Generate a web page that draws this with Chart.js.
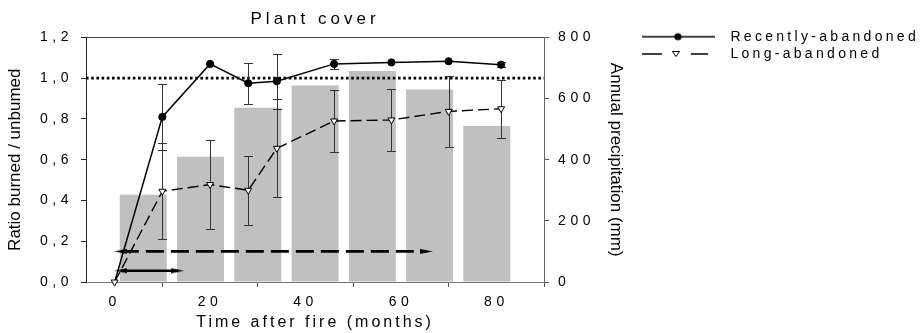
<!DOCTYPE html>
<html>
<head>
<meta charset="utf-8">
<title>Plant cover</title>
<script src="https://cdn.jsdelivr.net/npm/chart.js@4.4.1/dist/chart.umd.min.js"></script>
<style>
  html, body { margin: 0; padding: 0; background: #fff; }
  #wrap { width: 921px; height: 333px; }
</style>
</head>
<body>
<div id="wrap"><canvas id="grafico" width="921" height="333"></canvas></div>
<script>
// meses depois do fogo (pontos das duas séries)
const months = [0, 10, 20, 28, 34, 46, 58, 70, 81];
const recent = [0, 0.81, 1.07, 0.975, 0.985, 1.07, 1.077, 1.083, 1.066];
const recentErr = [0, 0.16, 0, 0.10, 0.135, 0.025, 0, 0, 0.012];
const longAb = [0, 0.445, 0.478, 0.45, 0.656, 0.79, 0.795, 0.837, 0.85];
const longErr = [0, 0.235, 0.22, 0.17, 0.24, 0.153, 0.15, 0.175, 0.143];

// precipitação anual (barras)
const precipMonths = [6, 18, 30, 42, 54, 66, 78];
const precip = [285, 410, 570, 643, 690, 630, 510];

// linha de referência e setas
const refLineX = [-6, 90];
const refLineY = 1;
const arrowSolidX = [1.3, 13.2];
const arrowSolidY = 0.055;
const arrowDashX = [1.3, 65.3];
const arrowDashY = 0.15;

// ticks
const xTicks = [0, 20, 40, 60, 80];
const yTicks = [0, 0.2, 0.4, 0.6, 0.8, 1.0, 1.2];
const yTickLabels = ['0,0', '0,2', '0,4', '0,6', '0,8', '1,0', '1,2'];
const y1Ticks = [0, 200, 400, 600, 800];

const FONTE = "'Liberation Sans', Arial, sans-serif";
Chart.defaults.font.family = FONTE;
Chart.defaults.color = '#000';

// espaçamento entre letras, como no original
function comEspaco(proto, nome, espaco) {
    if (!proto || !proto[nome]) return;
    const orig = proto[nome];
    proto[nome] = function (...args) {
        const ctx = this.ctx;
        const antes = ctx.letterSpacing;
        ctx.letterSpacing = typeof espaco === 'function' ? espaco(this) : espaco;
        const r = orig.apply(this, args);
        ctx.letterSpacing = antes;
        return r;
    };
}
comEspaco(Chart.Scale.prototype, 'drawLabels', '4.5px');
comEspaco(Chart.Scale.prototype, 'drawTitle', s => s.isHorizontal() ? '3px' : '0px');
if (Chart.Title && Chart.Title._element) comEspaco(Chart.Title._element.prototype, 'draw', '4px');
if (Chart.Legend && Chart.Legend._element) {
    comEspaco(Chart.Legend._element.prototype, 'fit', '3.3px');
    comEspaco(Chart.Legend._element.prototype, 'draw', '3.3px');
}

// amostras da legenda (linha + marcador)
function amostraLegenda(tracejada) {
    const c = document.createElement('canvas');
    c.width = 73; c.height = 12;
    const g = c.getContext('2d');
    g.strokeStyle = '#000';
    g.lineWidth = 1.4;
    g.beginPath();
    if (tracejada) {
        g.moveTo(0, 6); g.lineTo(20, 6);
        g.moveTo(49, 6); g.lineTo(66, 6);
    } else {
        g.moveTo(0, 6); g.lineTo(73, 6);
    }
    g.stroke();
    g.beginPath();
    if (tracejada) {
        g.moveTo(30.5, 3.5); g.lineTo(37.5, 3.5); g.lineTo(34, 8.5); g.closePath();
        g.fillStyle = '#fff'; g.fill();
        g.lineWidth = 1; g.stroke();
    } else {
        g.arc(36, 6, 3.6, 0, Math.PI * 2);
        g.fillStyle = '#000'; g.fill();
    }
    return c;
}

function pontaSeta() {
    const c = document.createElement('canvas');
    c.width = 13; c.height = 7;
    const g = c.getContext('2d');
    g.fillStyle = '#000';
    g.beginPath();
    g.moveTo(0, 1); g.lineTo(13, 3.5); g.lineTo(0, 6); g.closePath();
    g.fill();
    return c;
}
const seta = pontaSeta();

// barras de erro desenhadas antes de cada série
const barrasErro = {
    id: 'barrasErro',
    beforeDatasetDraw(chart, args) {
        const ds = chart.data.datasets[args.index];
        if (!ds.erros) return;
        const ctx = chart.ctx;
        const yScale = chart.scales[args.meta.yAxisID];
        ctx.save();
        ctx.strokeStyle = '#333';
        ctx.lineWidth = 1;
        args.meta.data.forEach((pt, i) => {
            const e = ds.erros[i];
            if (!e) return;
            const v = ds.data[i].y;
            const top = Math.round(yScale.getPixelForValue(v + e)) + 0.5;
            const bot = Math.round(yScale.getPixelForValue(v - e)) + 0.5;
            const x = Math.round(pt.x) + 0.5;
            ctx.beginPath();
            ctx.moveTo(x, top); ctx.lineTo(x, bot);
            ctx.moveTo(x - 4.5, top); ctx.lineTo(x + 4.5, top);
            ctx.moveTo(x - 4.5, bot); ctx.lineTo(x + 4.5, bot);
            ctx.stroke();
        });
        ctx.restore();
    }
};

const pares = (xs, ys) => xs.map((x, i) => ({ x, y: Array.isArray(ys) ? ys[i] : ys }));

const fTick = { size: 14 };
const eixoCor = '#555';

new Chart(document.getElementById('grafico'), {
    type: 'line',
    data: {
        datasets: [
            {
                type: 'bar',
                label: 'Annual precipitation',
                data: pares(precipMonths, precip),
                yAxisID: 'y1',
                backgroundColor: '#c0c0c0',
                borderWidth: 0,
                barPercentage: 0.82,
                categoryPercentage: 1,
                order: 10
            },
            {
                label: 'ref',
                data: pares(refLineX, refLineY),
                yAxisID: 'y',
                borderColor: '#000',
                borderWidth: 2.6,
                borderDash: [2.6, 2.6],
                pointRadius: 0,
                order: 5
            },
            {
                label: 'seta curta',
                data: pares(arrowSolidX, arrowSolidY),
                yAxisID: 'y',
                borderColor: '#000',
                borderWidth: 2.4,
                pointStyle: seta,
                pointRotation: [180, 0],
                pointRadius: 5,
                order: 4
            },
            {
                label: 'seta longa',
                data: pares(arrowDashX, arrowDashY),
                yAxisID: 'y',
                borderColor: '#000',
                borderWidth: 2.8,
                borderDash: [18, 7],
                pointStyle: seta,
                pointRotation: [180, 0],
                pointRadius: 5,
                order: 4
            },
            {
                label: 'Recently-abandoned',
                data: pares(months, recent),
                erros: recentErr,
                yAxisID: 'y',
                borderColor: '#000',
                borderWidth: 1.5,
                pointStyle: 'circle',
                pointRadius: c => c.dataIndex === 0 ? 0 : 3.6,
                pointBackgroundColor: '#000',
                pointBorderColor: '#000',
                pointBorderWidth: 1,
                clip: false,
                order: 2
            },
            {
                label: 'Long-abandoned',
                data: pares(months, longAb),
                erros: longErr,
                yAxisID: 'y',
                borderColor: '#000',
                borderWidth: 1.4,
                borderDash: [11, 5],
                pointStyle: 'triangle',
                pointRotation: 180,
                pointRadius: 4,
                pointBackgroundColor: '#fff',
                pointBorderColor: '#000',
                pointBorderWidth: 1,
                clip: false,
                order: 1
            }
        ]
    },
    options: {
        responsive: false,
        animation: false,
        events: [],
        layout: { padding: { left: 0, right: -8, top: 0, bottom: 0 } },
        plugins: {
            tooltip: { enabled: false },
            title: {
                display: true,
                text: 'Plant cover',
                fullSize: false,
                color: '#000',
                font: { size: 17, weight: 'normal' },
                padding: { top: 9, bottom: 8 }
            },
            legend: {
                position: 'right',
                align: 'start',
                maxWidth: 400,
                title: { display: true, text: '', font: { size: 12 }, padding: { top: 12, bottom: 0 } },
                labels: {
                    usePointStyle: true,
                    pointStyleWidth: 90,
                    padding: 3.3,
                    color: '#000',
                    font: { size: 14 },
                    generateLabels: () => [
                        { text: 'Recently-abandoned', pointStyle: amostraLegenda(false), rotation: 0, lineWidth: 0, fillStyle: '#000', strokeStyle: '#000', hidden: false, datasetIndex: 4 },
                        { text: 'Long-abandoned', pointStyle: amostraLegenda(true), rotation: 0, lineWidth: 0, fillStyle: '#fff', strokeStyle: '#000', hidden: false, datasetIndex: 5 }
                    ]
                }
            }
        },
        scales: {
            x: {
                type: 'linear',
                position: 'bottom',
                min: -6,
                max: 90,
                offset: false,
                afterBuildTicks: s => { s.ticks = xTicks.map(v => ({ value: v })); },
                afterFit: s => { s.height = 51; },
                grid: { drawOnChartArea: false, drawTicks: true, tickLength: 5, color: eixoCor, tickColor: eixoCor },
                border: { display: true, color: '#777', width: 1 },
                ticks: { font: fTick, color: '#000', padding: 7, maxRotation: 0, minRotation: 0, callback: v => String(v) },
                title: { display: true, text: 'Time after fire (months)', color: '#000', font: { size: 16 }, padding: { top: 0, bottom: 1 } }
            },
            xTopo: {
                type: 'linear',
                position: 'top',
                min: -6,
                max: 90,
                afterFit: s => { s.height = 0; },
                ticks: { display: false },
                grid: { display: false, drawTicks: false },
                border: { display: true, color: '#444', width: 1 }
            },
            y: {
                type: 'linear',
                position: 'left',
                min: 0,
                max: 1.2,
                afterBuildTicks: s => { s.ticks = yTicks.map(v => ({ value: v })); },
                afterFit: s => { s.width = 86; },
                grid: { drawOnChartArea: false, drawTicks: true, tickLength: 5, color: '#222', tickColor: '#222' },
                border: { display: true, color: '#222', width: 1 },
                ticks: { font: fTick, color: '#000', padding: 8, callback: v => yTickLabels[yTicks.indexOf(v)] },
                title: { display: true, text: 'Ratio burned / unbumed', color: '#000', font: { size: 17 }, padding: { top: 5.6, bottom: 0 } }
            },
            y1: {
                type: 'linear',
                position: 'right',
                min: 0,
                max: 800,
                afterBuildTicks: s => { s.ticks = y1Ticks.map(v => ({ value: v })); },
                afterFit: s => { s.width = 86; },
                grid: { drawOnChartArea: false, drawTicks: true, tickLength: 5, color: eixoCor, tickColor: eixoCor },
                border: { display: true, color: '#666', width: 1 },
                ticks: { font: fTick, color: '#000', padding: 9, callback: v => String(v) },
                title: { display: true, text: 'Annual precipitation (mm)', color: '#000', font: { size: 17 }, padding: { top: 4.3, bottom: 0 } }
            }
        }
    },
    plugins: [barrasErro]
});
</script>
</body>
</html>
